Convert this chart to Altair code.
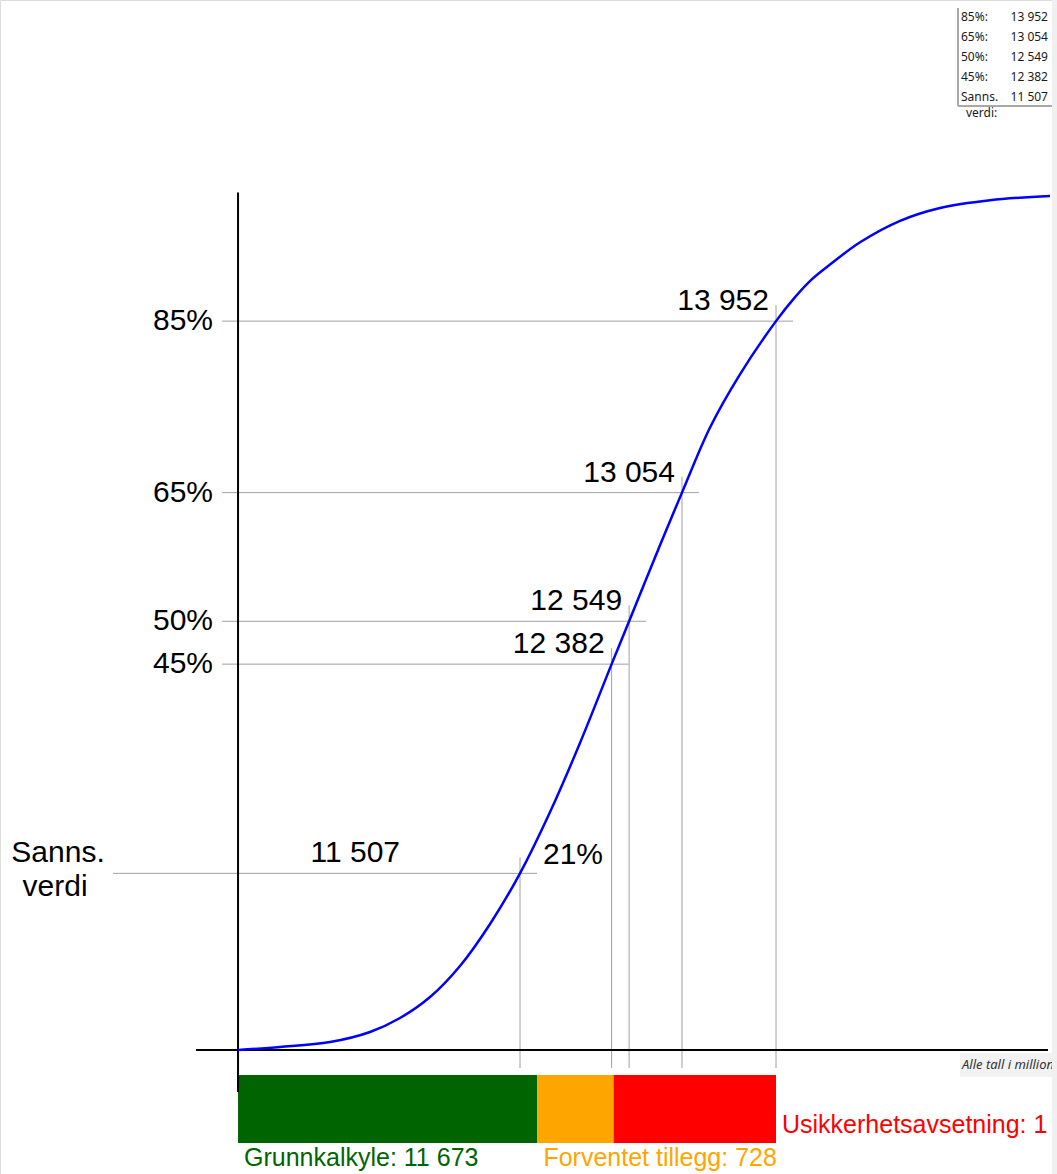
import altair as alt
import pandas as pd

# ---------------- data ----------------
CURVE_VALUE = [8814, 9215, 9693, 10075, 10361, 10648, 10934, 11221, 11507, 11794, 12080,
               12382, 12549, 12845, 13054, 13322, 13608, 13952, 14134, 14296, 14468, 14755,
               15137, 15519, 15996, 16569]
CURVE_PCT = [0, 0.35, 0.93, 2.1, 3.73, 6.18, 9.8, 14.7, 20.6, 27.75, 35.8,
             45, 50, 58.9, 65, 72.6, 78.8, 85, 87.8, 89.9, 91.6, 94.2,
             96.7, 98.2, 99.1, 99.6]

MARK_NAME = ["85%", "65%", "50%", "45%", "Sanns."]
MARK_PCT = [85, 65, 50, 45, 20.6]
MARK_VALUE = [13952, 13054, 12549, 12382, 11507]
MARK_TEXT = ["13 952", "13 054", "12 549", "12 382", "11 507"]

AXIS_START = 8814
BAR_NAMES = ["Grunnkalkyle", "Forventet tillegg", "Usikkerhetsavsetning"]
BAR_AMOUNTS = [11673 - AXIS_START, 728, 1551]
BAR_TEXT = ["Grunnkalkyle: 11 673", "Forventet tillegg: 728", "Usikkerhetsavsetning: 1 551"]
BAR_COLORS = ["#006400", "#FFA500", "#FF0000"]

# ---------------- layout ----------------
W, H = 1057, 1174
X_PER_PX = (13952 - 11507) / (776 - 520)
X0 = 11507 - 520 * X_PER_PX
X1 = X0 + W * X_PER_PX
PX_PER_PCT = (664 - 321) / 40.0
ZERO_PX = 1050


def py(px):
    return (ZERO_PX - px) / PX_PER_PCT


def dxv(px):
    return px * X_PER_PX


xs = alt.Scale(domain=[X0, X1], nice=False, zero=False)
ys = alt.Scale(domain=[py(H), py(0)], nice=False, zero=False)
FONT = "Liberation Sans"


def X(f="v"):
    return alt.X(f"{f}:Q", scale=xs, axis=None)


def Y(f="p"):
    return alt.Y(f"{f}:Q", scale=ys, axis=None)


curve = pd.DataFrame({"v": CURVE_VALUE, "p": CURVE_PCT})
marks = pd.DataFrame({"name": MARK_NAME, "p": MARK_PCT, "v": MARK_VALUE, "t": MARK_TEXT})
marks["hx0"] = [AXIS_START - dxv(16)] * 4 + [AXIS_START - dxv(125)]
marks["hx1"] = marks["v"] + dxv(17)
marks["vy0"] = py(1068)
marks["vy1"] = marks["p"] + 16 / PX_PER_PCT

starts, s = [], AXIS_START
for a in BAR_AMOUNTS:
    starts.append(s)
    s += a
bars = pd.DataFrame({"name": BAR_NAMES, "x0": starts,
                     "x1": [a + b for a, b in zip(starts, BAR_AMOUNTS)],
                     "t": BAR_TEXT})
bars["y0"] = py(1075)
bars["y1"] = py(1143)

color_scale = alt.Scale(domain=BAR_NAMES, range=BAR_COLORS)

line = alt.Chart(curve).mark_line(color="#0000FF", strokeWidth=2.5,
                                  interpolate="catmull-rom").encode(x=X(), y=Y())

hrules = alt.Chart(marks).mark_rule(color="#a0a0a0", strokeWidth=1).encode(
    x=X("hx0"), x2="hx1:Q", y=Y())
vrules = alt.Chart(marks).mark_rule(color="#a0a0a0", strokeWidth=1).encode(
    x=X(), y=Y("vy0"), y2="vy1:Q")

axes_df = pd.DataFrame({"v": [AXIS_START], "p": [0]})
yaxis = alt.Chart(axes_df).mark_rule(color="black", strokeWidth=2).encode(
    x=X(), y=alt.Y("p0:Q", scale=ys, axis=None), y2="p1:Q"
).transform_calculate(p0=str(py(1092)), p1="100")
xaxis = alt.Chart(axes_df).mark_rule(color="black", strokeWidth=2).encode(
    x=alt.X("x0:Q", scale=xs, axis=None), x2="x1:Q", y=Y()
).transform_calculate(x0=str(X0 + dxv(196)), x1=str(X0 + dxv(1048)))

barlayer = alt.Chart(bars).mark_rect().encode(
    x=X("x0"), x2="x1:Q", y=Y("y0"), y2="y1:Q",
    color=alt.Color("name:N", scale=color_scale, legend=None))

pct_labels = alt.Chart(marks[marks["name"] != "Sanns."]).mark_text(
    font=FONT, fontSize=30, align="right", baseline="middle", dx=-25, color="black"
).encode(x=alt.X("ax:Q", scale=xs, axis=None), y=Y(), text="name:N"
         ).transform_calculate(ax=str(AXIS_START))

sanns = marks[marks["name"] == "Sanns."]
sanns_label = alt.Chart(sanns).mark_text(
    font=FONT, fontSize=30, align="center", baseline="middle", dx=-180, dy=-20,
    color="black").encode(x=alt.X("ax:Q", scale=xs, axis=None), y=Y(), text="name:N"
                          ).transform_calculate(ax=str(AXIS_START))
verdi_label = alt.Chart(sanns).mark_text(
    font=FONT, fontSize=30, align="center", baseline="middle", dx=-183, dy=14,
    color="black", text="verdi").encode(x=alt.X("ax:Q", scale=xs, axis=None), y=Y()
                                        ).transform_calculate(ax=str(AXIS_START))

val_labels = alt.Chart(marks[marks["name"] != "Sanns."]).mark_text(
    font=FONT, fontSize=30, align="right", baseline="middle", dx=-7, dy=-20,
    color="black").encode(x=X(), y=Y(), text="t:N")
sanns_val = alt.Chart(sanns).mark_text(
    font=FONT, fontSize=30, align="right", baseline="middle", dx=-120, dy=-20,
    color="black").encode(x=X(), y=Y(), text="t:N")
sanns_pct = alt.Chart(sanns).mark_text(
    font=FONT, fontSize=30, align="left", baseline="middle", dx=23, dy=-18,
    color="black").encode(x=X(), y=Y(), text="pl:N"
                          ).transform_calculate(pl="round(datum.p) + '%'")

bar_text_df = bars.copy()
bar_text_df["ty"] = [py(1158), py(1158), py(1125)]
bar_text_df["tx"] = [bars["x0"][0], bars["x0"][1], bars["x1"][2]]
bar_text = alt.Chart(bar_text_df).mark_text(
    font=FONT, fontSize=25, align="left", baseline="middle", dx=6
).encode(x=X("tx"), y=Y("ty"), text="t:N",
         color=alt.Color("name:N", scale=color_scale, legend=None))

# summary table (top right)
table = pd.DataFrame({"lab": [n + ("" if n == "Sanns." else ":") for n in MARK_NAME],
                      "val": MARK_TEXT, "row": list(range(len(MARK_NAME)))})
tys = alt.Scale(domain=[0, 4], range=[17, 96.5])
TFONT = "Noto Sans"
tab_lab = alt.Chart(table).mark_text(font=TFONT, fontSize=12, align="left",
                                     baseline="middle", color="#1a1a1a").encode(
    x=alt.value(961), y=alt.Y("row:Q", scale=tys, axis=None), text="lab:N")
tab_val = alt.Chart(table).mark_text(font=TFONT, fontSize=12, align="right",
                                     baseline="middle", color="#1a1a1a").encode(
    x=alt.value(1048), y=alt.Y("row:Q", scale=tys, axis=None), text="val:N")
tab_verdi = alt.Chart(table[table["row"] == 4]).mark_text(
    font=TFONT, fontSize=12, align="left", baseline="middle", color="#1a1a1a",
    text="verdi:", dy=16).encode(x=alt.value(966), y=alt.Y("row:Q", scale=tys, axis=None))
box_l = alt.Chart(table.head(1)).mark_rule(color="#a8a8a8", strokeWidth=2).encode(
    x=alt.value(958), y=alt.value(8), y2=alt.value(106))
box_b = alt.Chart(table.head(1)).mark_rule(color="#a8a8a8", strokeWidth=2).encode(
    x=alt.value(958), x2=alt.value(1052), y=alt.value(106))

note_bg = alt.Chart(table.head(1)).mark_rect(color="#f2f2f2").encode(
    x=alt.value(960), x2=alt.value(1052), y=alt.value(1053), y2=alt.value(1077))
note = alt.Chart(table.head(1)).mark_text(
    font=TFONT, fontSize=13, fontStyle="italic", align="left", baseline="middle",
    color="#333", text="Alle tall i millioner kroner").encode(
    x=alt.value(962), y=alt.value(1065))
strip = alt.Chart(table.head(1)).mark_rect(color="#f0f0f0").encode(
    x=alt.value(1052), x2=alt.value(1057), y=alt.value(0), y2=alt.value(H))

chart = alt.layer(
    barlayer, hrules, vrules, xaxis, yaxis, line,
    pct_labels, sanns_label, verdi_label, val_labels, sanns_val, sanns_pct,
    bar_text, note_bg, note, tab_lab, tab_val, tab_verdi, box_l, box_b, strip
).resolve_scale(y="independent", color="shared").properties(
    width=W, height=H, padding=0,
    autosize=alt.AutoSizeParams(type="none")
).configure_view(stroke=None).configure(background="white")

chart.save("out.html", embed_options={"renderer": "svg", "actions": False})
